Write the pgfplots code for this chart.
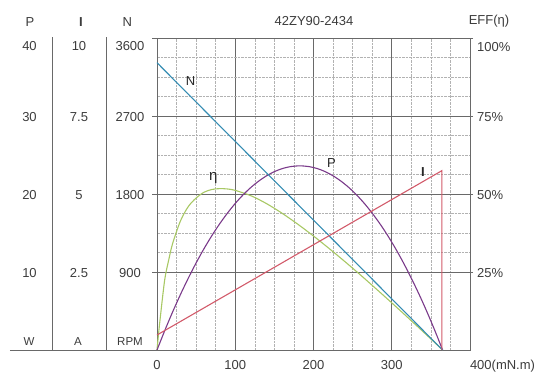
\documentclass[border=0pt]{standalone}
\usepackage{fontspec}
\setmainfont{Liberation Sans}
\usepackage{pgfplots}
\pgfplotsset{compat=1.18}
\definecolor{cN}{RGB}{52,140,178}
\definecolor{cE}{RGB}{168,200,100}
\definecolor{cP}{RGB}{122,58,138}
\definecolor{cI}{RGB}{210,90,106}
\definecolor{txt}{RGB}{60,60,60}
\definecolor{gmaj}{RGB}{105,105,105}
\definecolor{gmin}{RGB}{178,178,178}
\newcommand{\fs}{\fontsize{13}{15}\selectfont}
\begin{document}
\begin{tikzpicture}[font=\fs, text=txt]
\useasboundingbox (-157pt,-25pt) rectangle (377pt,350pt);
\begin{axis}[at={(0pt,0pt)}, anchor=south west, scale only axis,
  width=313pt, height=312pt,
  xmin=0, xmax=400, ymin=0, ymax=3600,
  xtick={0,100,200,300,400},
  xticklabels={0,100,200,300,\makebox[0pt][l]{400(mN.m)}},
  ytick={900,1800,2700,3600}, yticklabels={},
  minor x tick num=3, minor y tick num=3,
  grid=both,
  major grid style={gmaj, line width=0.6pt},
  minor grid style={gmin, line width=0.5pt, dash pattern=on 2.5pt off 1pt},
  axis line style={gmaj, line width=0.8pt},
  tick align=outside, ytick pos=left, major tick length=5pt,
  minor tick length=0pt,
  tick style={gmaj, line width=0.6pt},
  xtick style={draw=none},
  xticklabel style={font=\fs, text=txt, yshift=-2pt},
  clip=false,
]
\addplot[cE, line width=1.1pt, smooth] coordinates {
(0,0) (2,190) (5,440) (10,820) (15,1040) (20,1230) (30,1490) (40,1655)
(50,1754) (60,1820) (70,1852) (80,1862) (90,1858) (100,1842) (120,1780)
(140,1689) (160,1577) (180,1451) (200,1315) (220,1171) (240,1021)
(260,866) (280,706) (300,544) (320,379) (340,212) (355,85) (365,0)};
\addplot[cP, line width=1.1pt, smooth] coordinates {
(0,0) (10,226) (20,440) (30,641) (40,829) (50,1005) (60,1168) (70,1318)
(80,1455) (90,1579) (100,1691) (110,1790) (120,1876) (130,1949) (140,2010)
(150,2058) (160,2093) (170,2115) (182.5,2125) (195,2115) (205,2093)
(215,2058) (225,2010) (235,1949) (245,1876) (255,1790) (265,1691)
(275,1579) (285,1455) (295,1318) (305,1168) (315,1005) (325,829)
(335,641) (345,440) (355,226) (365,0)};
\addplot[cN, line width=1.1pt] coordinates {(0,3315) (365,0)};
\addplot[cI, line width=1.1pt] coordinates {(0,173) (364,2069) (364,0)};
\node[text=black!85] at (axis cs:43,3104) {N};
\node[text=black!85, font=\fontsize{15}{17}\selectfont] at (axis cs:72,1990) {η};
\node[text=black!85] at (axis cs:223,2154) {P};
\node[text=black!85, font=\fs\bfseries] at (axis cs:340,2057) {I};
\end{axis}
\begin{axis}[at={(0pt,0pt)}, anchor=south west, scale only axis,
  width=313pt, height=312pt,
  xmin=0, xmax=400, ymin=0, ymax=100,
  axis x line=none, axis y line*=right,
  ytick={25,50,75,100}, yticklabels={},
  tick align=outside, major tick length=3pt,
  axis line style={gmaj, line width=0.8pt},
  tick style={gmaj, line width=0.6pt},
]
\end{axis}
% left columns
\draw[gmaj, line width=0.8pt] (-147pt,0pt) -- (0pt,0pt);
\draw[gmaj, line width=0.8pt] (-104.7pt,0pt) -- (-104.7pt,312.7pt);
\draw[gmaj, line width=0.8pt] (-51pt,0pt) -- (-51pt,312.7pt);
\node at (-127pt,328pt) {P};
\node[font=\fs\bfseries] at (-76pt,328pt) {I};
\node at (-29.7pt,328pt) {N};
\node at (-127.5pt,304pt) {40};
\node at (-78pt,304pt) {10};
\node at (-27pt,304pt) {3600};
\node at (-127.5pt,233pt) {30};
\node at (-78pt,233pt) {7.5};
\node at (-27pt,233pt) {2700};
\node at (-127.5pt,155pt) {20};
\node at (-78pt,155pt) {5};
\node at (-27pt,155pt) {1800};
\node at (-127.5pt,77pt) {10};
\node at (-78pt,77pt) {2.5};
\node at (-27pt,77pt) {900};
\node[font=\fontsize{11.5}{13}\selectfont] at (-128pt,8.3pt) {W};
\node[font=\fontsize{11.5}{13}\selectfont] at (-79pt,8.3pt) {A};
\node[font=\fontsize{11.5}{13}\selectfont] at (-27pt,8.3pt) {RPM};
% top and right
\node at (157pt,329pt) {42ZY90-2434};
\node at (332pt,329pt) {EFF(η)};
\node[anchor=west, inner sep=0pt] at (320pt,303.3pt) {100\%};
\node[anchor=west, inner sep=0pt] at (320pt,232.7pt) {75\%};
\node[anchor=west, inner sep=0pt] at (320pt,155pt) {50\%};
\node[anchor=west, inner sep=0pt] at (320pt,77pt) {25\%};
\end{tikzpicture}
\end{document}
